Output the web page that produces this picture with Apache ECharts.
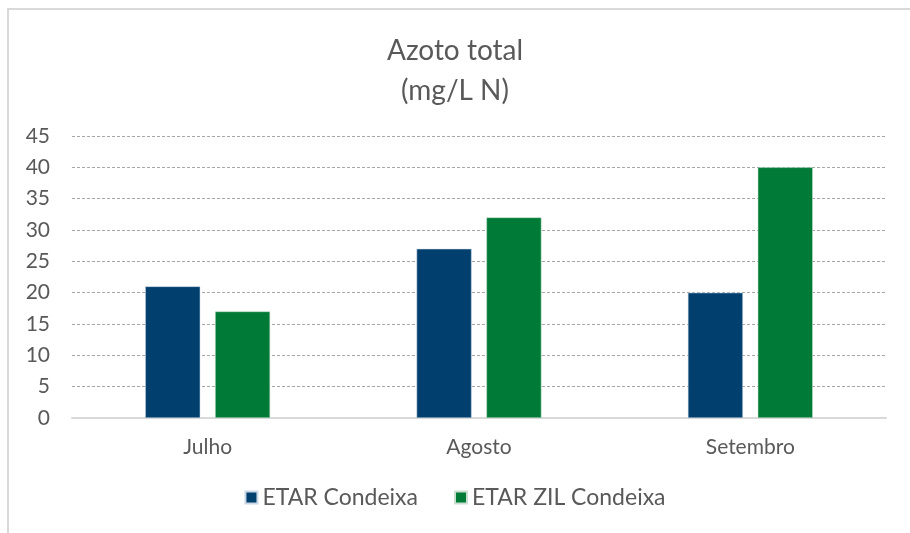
<!DOCTYPE html>
<html>
<head>
<meta charset="utf-8">
<script src="https://cdn.jsdelivr.net/npm/echarts@6/dist/echarts.min.js"></script>
<style>
  html, body { margin: 0; padding: 0; background: #fff; }
  #chart { width: 910px; height: 533px; }
</style>
</head>
<body>
<div id="chart"></div>
<script>
const months = ['Julho', 'Agosto', 'Setembro'];
const etarCondeixa = [21, 27, 20];
const etarZilCondeixa = [17, 32, 40];

const chart = echarts.init(document.getElementById('chart'));

const textColor = '#595959';
const fontFamily = 'Lato, "Open Sans", sans-serif';

const option = {
  backgroundColor: '#fff',
  textStyle: { fontFamily: fontFamily, color: textColor },
  graphic: [
    {
      // chart frame (runs off the right and bottom edges)
      type: 'rect',
      shape: { x: 8, y: 9, width: 1000, height: 600 },
      style: { fill: 'none', stroke: '#d9d9d9', lineWidth: 2 },
      silent: true,
    },
  ],
  title: {
    text: 'Azoto total\n(mg/L N)',
    left: 'center',
    top: 26,
    textStyle: {
      fontFamily: fontFamily,
      fontWeight: 'normal',
      fontSize: 28,
      lineHeight: 40,
      color: textColor,
    },
  },
  legend: {
    bottom: 19,
    left: 'center',
    itemWidth: 12,
    itemHeight: 12,
    itemGap: 36,
    icon: 'rect',
    textStyle: { fontFamily: fontFamily, fontSize: 23, color: textColor },
    data: ['ETAR Condeixa', 'ETAR ZIL Condeixa'],
  },
  grid: {
    left: 72,
    right: 24,
    top: 136,
    bottom: 115,
    containLabel: false,
  },
  xAxis: {
    type: 'category',
    data: months,
    axisTick: { show: false },
    axisLine: { lineStyle: { color: '#d9d9d9', width: 2 } },
    axisLabel: { fontFamily: fontFamily, fontSize: 21, color: textColor, margin: 19 },
  },
  yAxis: {
    type: 'value',
    min: 0,
    max: 45,
    interval: 5,
    axisLine: { show: false },
    axisTick: { show: false },
    axisLabel: { fontFamily: fontFamily, fontSize: 21, color: textColor, margin: 22 },
    splitLine: { lineStyle: { color: '#a6a6a6', type: [3, 2], width: 1 } },
  },
  series: [
    {
      name: 'ETAR Condeixa',
      type: 'bar',
      data: etarCondeixa,
      barWidth: 55,
      barGap: '27%',
      itemStyle: { color: '#003f6e', borderColor: '#c9d8e6', borderWidth: 0.5 },
    },
    {
      name: 'ETAR ZIL Condeixa',
      type: 'bar',
      data: etarZilCondeixa,
      barWidth: 55,
      barGap: '27%',
      itemStyle: { color: '#007a37', borderColor: '#c9e0d0', borderWidth: 0.5 },
    },
  ],
};

chart.setOption(option);
</script>
</body>
</html>
